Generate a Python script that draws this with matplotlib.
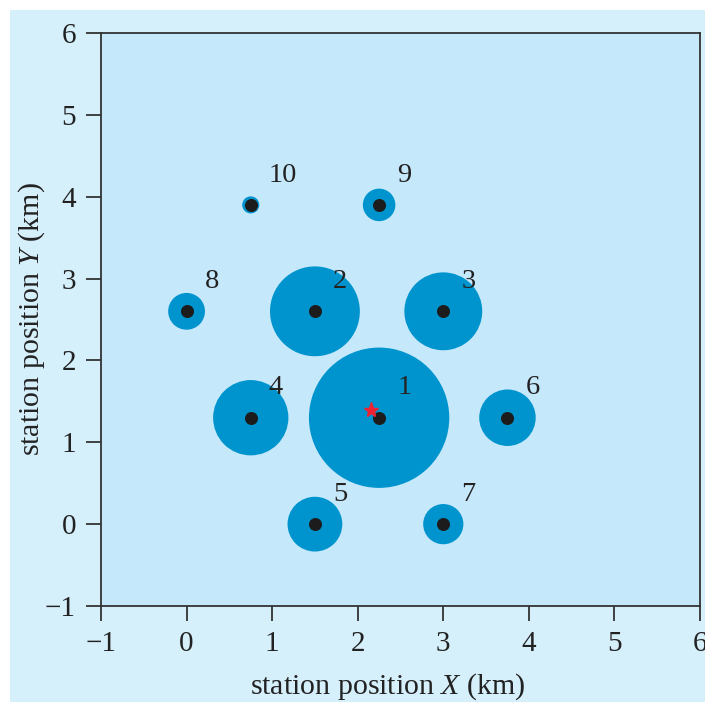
import matplotlib
matplotlib.use('Agg')
import matplotlib.pyplot as plt
from matplotlib.patches import Rectangle
import numpy as np

# station data (km)
station_id = ['1', '2', '3', '4', '5', '6', '7', '8', '9', '10']
station_x = [2.25, 1.5, 3.0, 0.75, 1.5, 3.75, 3.0, 0.0, 2.25, 0.75]
station_y = [1.3, 2.6, 2.6, 1.3, 0.0, 1.3, 0.0, 2.6, 3.9, 3.9]
# circle radius in km (x scale)
station_r = [0.82, 0.525, 0.455, 0.44, 0.32, 0.33, 0.235, 0.215, 0.19, 0.10]
# estimated source position
source_x = [2.15]
source_y = [1.4]

plt.rcParams['font.family'] = ['Liberation Serif', 'DejaVu Serif']
plt.rcParams['mathtext.fontset'] = 'custom'
plt.rcParams['mathtext.it'] = 'Liberation Serif:italic'
plt.rcParams['mathtext.rm'] = 'Liberation Serif'

dpi = 100
fig = plt.figure(figsize=(7.05, 7.02), dpi=dpi, facecolor='white')
fig.patches.append(Rectangle((10 / 705, 0), 1, 692 / 702, transform=fig.transFigure,
                             facecolor='#d5effb', edgecolor='none', zorder=-10))

ax = fig.add_axes([101 / 705, 1 - 606 / 702, 599 / 705, 573 / 702])
ax.set_facecolor('#c6e8fb')
ax.set_xlim(-1, 6)
ax.set_ylim(-1, 6)

# circle sizes: radius in km along x converted to points
px_per_km = ax.transData.transform((1, 0))[0] - ax.transData.transform((0, 0))[0]
diam_pt = 2 * np.array(station_r) * px_per_km * 72 / dpi
ax.scatter(station_x, station_y, s=diam_pt ** 2, color='#0094ce', linewidths=0, zorder=2)
ax.scatter(station_x, station_y, s=88, color='#1c1c1c', linewidths=0, zorder=3)
ax.plot(source_x, source_y, marker='*', color='#ee2233', markersize=11,
        linestyle='none', zorder=4)

for sid, x, y in zip(station_id, station_x, station_y):
    ax.annotate(sid, (x, y), xytext=(13, 21.5), textcoords='offset points',
                ha='left', va='center', fontsize=20.5, color='#222222', zorder=5)

ax.set_xticks(range(-1, 7))
ax.set_yticks(range(-1, 7))
ax.set_xticklabels(['\u22121'] + [str(i) for i in range(0, 7)])
ax.set_yticklabels(['\u22121'] + [str(i) for i in range(0, 7)])
ax.tick_params(direction='out', length=11, width=1.3, colors='#333333',
               labelsize=21, labelcolor='#222222', pad=7)
for sp in ax.spines.values():
    sp.set_color('#333333')
    sp.set_linewidth(1.3)

ax.set_xlabel('station position $X$ (km)', fontsize=21.5, color='#222222')
ax.set_ylabel('station position $Y$ (km)', fontsize=21.5, color='#222222')
ax.xaxis.set_label_coords(0.478, -0.114)
ax.yaxis.set_label_coords(-0.09, 0.5)

fig.savefig('out.png', dpi=dpi, facecolor=fig.get_facecolor())
